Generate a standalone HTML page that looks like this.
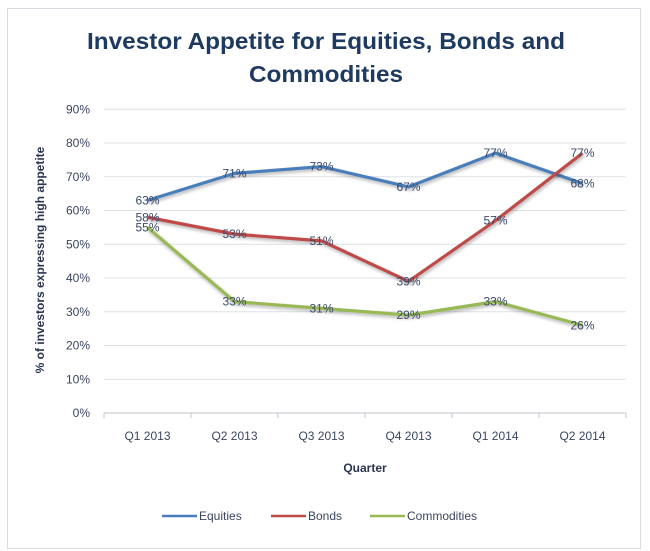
<!DOCTYPE html>
<html><head><meta charset="utf-8"><style>
html,body{margin:0;padding:0;background:#fff;}
svg{display:block;font-family:"Liberation Sans",sans-serif;}
</style></head><body>
<svg id="chart" width="650" height="551" viewBox="0 0 650 551">
<defs><filter id="sh" x="-10%" y="-10%" width="120%" height="130%"><feDropShadow dx="1" dy="2" stdDeviation="1.5" flood-color="#000" flood-opacity="0.3"/></filter></defs>
<rect x="7.5" y="8.5" width="633" height="540" fill="#fff" stroke="#d9dde3"/>
<text x="326" y="49" text-anchor="middle" font-size="23" font-weight="bold" fill="#1f3a60" textLength="478" lengthAdjust="spacingAndGlyphs">Investor Appetite for Equities, Bonds and</text>
<text x="326" y="82" text-anchor="middle" font-size="23" font-weight="bold" fill="#1f3a60" textLength="154" lengthAdjust="spacingAndGlyphs">Commodities</text>
<g id="grid"></g><g id="axes"></g><g id="series"></g><g id="labels"></g>
<text transform="translate(44,260) rotate(-90)" text-anchor="middle" font-size="12" font-weight="bold" fill="#2a3550">% of investors expressing high appetite</text>
<text x="365" y="472" text-anchor="middle" font-size="12" font-weight="bold" fill="#2a3550">Quarter</text>
<g id="legend"></g>
</svg>
<script>
const categories=["Q1 2013","Q2 2013","Q3 2013","Q4 2013","Q1 2014","Q2 2014"];
const equities=[63,71,73,67,77,68];
const bonds=[58,53,51,39,57,77];
const commodities=[55,33,31,29,33,26];
const yTicks=[0,10,20,30,40,50,60,70,80,90];
const seriesNames=["Equities","Bonds","Commodities"];
const colors=["#4a7ebb","#be4b48","#98b954"];
const NS="http://www.w3.org/2000/svg";
const L=104,R=626,Y0=413,PY=33.75;
const band=(R-L)/categories.length;
const x=i=>L+band*(i+0.5);
const y=v=>Y0-v/10*PY;
function mk(t,a,p){const e=document.createElementNS(NS,t);for(const k in a)e.setAttribute(k,a[k]);document.getElementById(p).appendChild(e);return e;}
yTicks.forEach(t=>{
 const g=mk("line",{x1:L,x2:R,y1:y(t),y2:y(t),stroke:t===0?"#bfc5cc":"#dde1e6","stroke-width":1},"grid");
 
 
 const tx=mk("text",{x:L-14,y:y(t)+4,"text-anchor":"end","font-size":12,fill:"#3a4560"},"axes");
 tx.textContent=t+"%";
 
 
});
for(let i=0;i<=categories.length;i++){
 const tk=mk("line",{x1:L+band*i,x2:L+band*i,y1:Y0,y2:Y0+5,stroke:"#bfc5cc"},"axes");
 
 
}
categories.forEach((c,i)=>{
 const tx=mk("text",{x:x(i),y:Y0+27,"text-anchor":"middle","font-size":12,fill:"#3a4560"},"axes");
 tx.textContent=c;
 
 
});
[equities,bonds,commodities].forEach((d,s)=>{
 const pl=mk("polyline",{points:d.map((v,i)=>x(i)+","+y(v)).join(" "),fill:"none",stroke:colors[s],"stroke-width":3.2,"stroke-linejoin":"round",filter:"url(#sh)"},"series");
 
 
 d.forEach((v,i)=>{
  const t=mk("text",{x:x(i),y:y(v)+4,"text-anchor":"middle","font-size":12,fill:"#3a4a6a"},"labels");
  t.textContent=v+"%";
  
  
 });
});
const lx=[162,271,370];
seriesNames.forEach((n,s)=>{
 const ln=mk("line",{x1:lx[s],x2:lx[s]+35,y1:516,y2:516,stroke:colors[s],"stroke-width":2.5},"legend");
 
 
 const t=mk("text",{x:lx[s]+37,y:520,"font-size":12,fill:"#3a4560"},"legend");
 t.textContent=n;
 
 
});
</script>
</body></html>
